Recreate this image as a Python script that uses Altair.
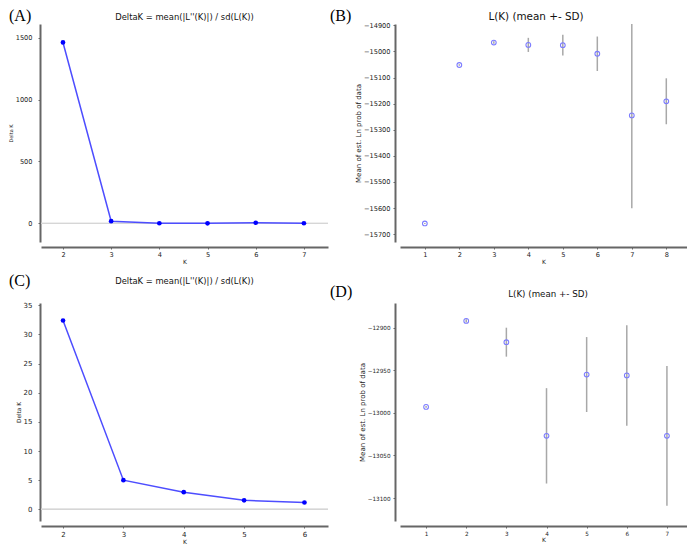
import altair as alt
import pandas as pd

# ---------------- data ----------------
# (A) Delta K
a_k = [2, 3, 4, 5, 6, 7]
a_delta = [1461, 18, 1.5, 1.0, 5.5, 1.2]

# (B) L(K) mean +- SD
b_k = [1, 2, 3, 4, 5, 6, 7, 8]
b_mean = [-15659, -15052, -14966, -14975, -14976, -15009, -15245, -15191]
b_sd = [2, 3, 5, 27, 40, 66, 356, 88]

# (C) Delta K
c_k = [2, 3, 4, 5, 6]
c_delta = [32.4, 5.0, 2.94, 1.55, 1.17]

# (D) L(K) mean +- SD
d_k = [1, 2, 3, 4, 5, 6, 7]
d_mean = [-12993, -12892, -12917, -13027, -12955, -12956, -13027]
d_sd = [1, 2, 17, 56, 44, 59, 82]

delta_title = "DeltaK = mean(|L''(K)|) / sd(L(K))"
lk_title = "L(K) (mean +- SD)"
panel_labels = ["(A)", "(B)", "(C)", "(D)"]

W = 287
H = 218
FONT = "DejaVu Sans"


def text_layer(text, dx, dy, font, size, align, baseline, color="#000"):
    return alt.Chart(pd.DataFrame({"t": [text]})).mark_text(
        font=font, fontSize=size, align=align, baseline=baseline, color=color
    ).encode(text="t:N", x=alt.value(dx), y=alt.value(dy))


def decorations(label, ldx, ldy, title, tdx, tdy, tsize):
    return [
        text_layer(label, ldx, ldy, "Liberation Serif", 16, "left", "top"),
        text_layer(title, tdx, tdy, FONT, tsize, "center", "alphabetic", "#111"),
    ]


def delta_panel(ks, vals, xdom, ydom, yvals, label, ldy, tdy, tsize,
                lab_size, ytitle_size):
    df = pd.DataFrame({"K": ks, "DeltaK": vals})
    xs = alt.Scale(domain=xdom, nice=False, zero=False)
    ys = alt.Scale(domain=ydom, nice=False, zero=False)
    xax = alt.Axis(values=ks, title="K", offset=5, format="d", labelFontSize=lab_size,
                   titleFontSize=6, labelPadding=2, titlePadding=1)
    yax = alt.Axis(values=yvals, title="Delta K", offset=1, format="d", labelPadding=6,
                   labelFontSize=lab_size, titleFontSize=ytitle_size, titlePadding=2,
                   labelOverlap=False)
    x = alt.X("K:Q", scale=xs, axis=xax)
    y = alt.Y("DeltaK:Q", scale=ys, axis=yax)
    base = alt.Chart(df)
    zero = base.mark_rule(color="#d6d6d6", strokeWidth=1).encode(
        y=alt.Y(datum=0, scale=ys, axis=yax))
    line = base.mark_line(color="#4d4dff", strokeWidth=1.5).encode(x=x, y=y)
    pts = base.mark_circle(color="#0000ff", size=22, opacity=1).encode(x=x, y=y)
    return alt.layer(
        zero, line, pts,
        *decorations(label, -32, ldy, delta_title, W / 2, tdy, tsize)
    ).properties(width=W, height=H)


def lk_panel(ks, means, sds, xdom, ydom, yvals, label, ldy, tdx, tdy, tsize, lab_size):
    df = pd.DataFrame({"K": ks, "mean": means, "sd": sds})
    xs = alt.Scale(domain=xdom, nice=False, zero=False)
    ys = alt.Scale(domain=ydom, nice=False, zero=False)
    yax = alt.Axis(values=yvals, title="Mean of est. Ln prob of data", offset=5, format="d",
                   labelPadding=3, labelFontSize=lab_size, titleFontSize=7, titlePadding=2,
                   labelOverlap=False)
    x = alt.X("K:Q", scale=xs, axis=alt.Axis(
        values=ks, title="K", offset=5, format="d", labelFontSize=lab_size,
        titleFontSize=6, labelPadding=2, titlePadding=1))
    base = alt.Chart(df).transform_calculate(
        lo="datum.mean - datum.sd", hi="datum.mean + datum.sd"
    )
    bars = base.mark_rule(color="#a8a8a8", strokeWidth=1.5, clip=True).encode(
        x=x, y=alt.Y("lo:Q", scale=ys, axis=yax), y2="hi:Q"
    )
    pts = base.mark_point(shape="circle", filled=False, color="#7b7bff", size=22,
                          strokeWidth=1.1, opacity=1).encode(
        x=x, y=alt.Y("mean:Q", scale=ys, axis=yax)
    )
    return alt.layer(
        bars, pts,
        *decorations(label, -70, ldy, lk_title, tdx, tdy, tsize)
    ).properties(width=W, height=H)


pa = delta_panel(a_k, a_delta, [1.544, 7.5], [-150, 1610], [0, 500, 1000, 1500],
                 panel_labels[0], -16, -4, 8.4, 6.6, 5)
pb = lk_panel(b_k, b_mean, b_sd, [0.28, 8.6], [-15730, -14895],
              [-15700, -15600, -15500, -15400, -15300, -15200, -15100, -15000, -14900],
              panel_labels[1], -16, 136, -4.5, 10.4, 6.6)
pc = delta_panel(c_k, c_delta, [1.635, 6.39], [-2, 35.4], [0, 5, 10, 15, 20, 25, 30, 35],
                 panel_labels[2], -30, -19.5, 8.4, 7, 5.8)
pd_ = lk_panel(d_k, d_mean, d_sd, [0.35, 7.5], [-13127, -12871],
               [-13100, -13050, -13000, -12950, -12900],
               panel_labels[3], -19, 148, -6, 8.7, 5.7)

chart = alt.concat(
    pa, pb, pc, pd_, columns=2, spacing={"row": 61, "column": 72}, bounds="flush"
).properties(
    padding=0
).configure_view(
    stroke=None
).configure_axis(
    domainColor="#666666", domainWidth=2, tickColor="#666666", tickSize=2, tickWidth=1,
    labelFont=FONT, labelColor="#222222",
    titleFont=FONT, titleFontWeight="normal", titleColor="#222222",
    grid=False,
)

chart.save("out.html", embed_options={"renderer": "svg", "actions": False})
